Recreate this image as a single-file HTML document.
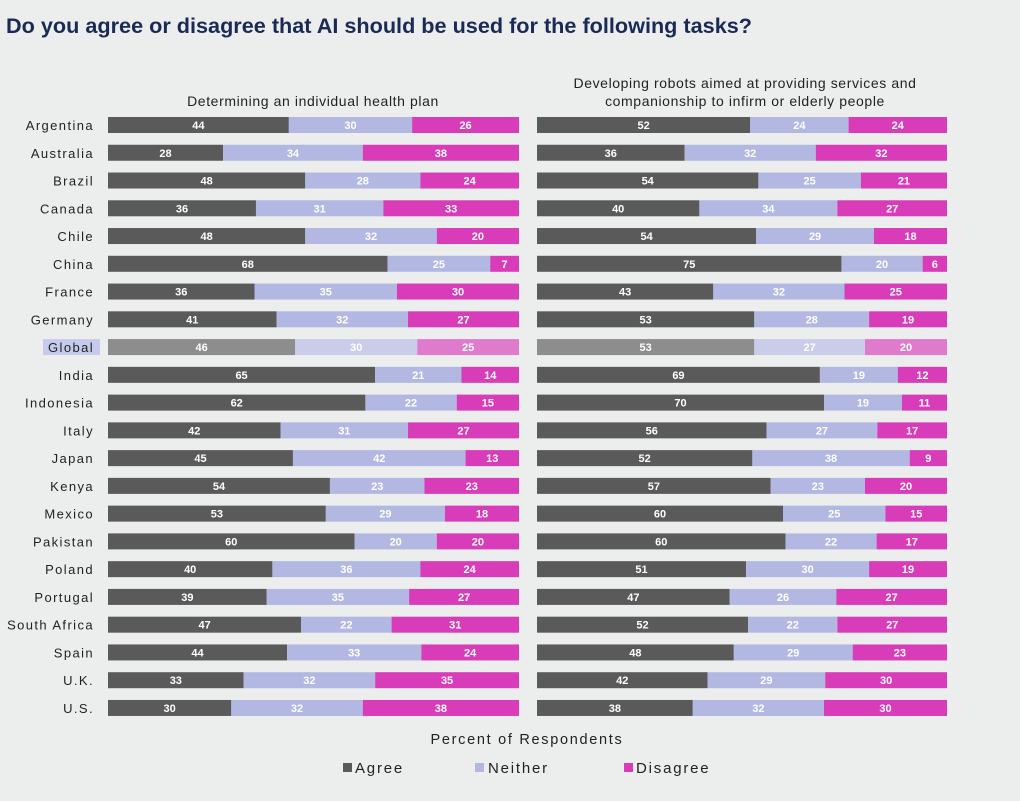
<!DOCTYPE html>
<html><head><meta charset="utf-8"><style>
body{margin:0;background:#eceeed;width:1020px;height:796px;overflow:hidden;font-family:"Liberation Sans",sans-serif}
</style></head><body>
<svg id="c" width="1020" height="796" xmlns="http://www.w3.org/2000/svg">
<rect width="1020" height="796" fill="#eceeed"/>
<text x="6" y="33" font-size="21" font-weight="bold" fill="#1b2a55" textLength="746" lengthAdjust="spacingAndGlyphs">Do you agree or disagree that AI should be used for the following tasks?</text>
<text x="313" y="106" font-size="14" text-anchor="middle" fill="#222" letter-spacing="0.6">Determining an individual health plan</text>
<text x="745" y="88" font-size="14" text-anchor="middle" fill="#222" letter-spacing="0.6">Developing robots aimed at providing services and</text>
<text x="745" y="106" font-size="14" text-anchor="middle" fill="#222" letter-spacing="0.6">companionship to infirm or elderly people</text>
<text x="527" y="744" font-size="14.5" text-anchor="middle" fill="#222" letter-spacing="1.7">Percent of Respondents</text>
<g>
<rect x="343" y="763" width="9" height="9" fill="#5a5a5a"/>
<text x="355" y="773" font-size="15" fill="#222" letter-spacing="1.8">Agree</text>
<rect x="475" y="763" width="9" height="9" fill="#b3b8e2"/>
<text x="488" y="773" font-size="15" fill="#222" letter-spacing="1.8">Neither</text>
<rect x="624" y="763" width="9" height="9" fill="#d83cb8"/>
<text x="636" y="773" font-size="15" fill="#222" letter-spacing="1.8">Disagree</text>
</g>
</svg>
<script>
const countries=["Argentina","Australia","Brazil","Canada","Chile","China","France","Germany","Global","India","Indonesia","Italy","Japan","Kenya","Mexico","Pakistan","Poland","Portugal","South Africa","Spain","U.K.","U.S."];
const healthAgree=[44,28,48,36,48,68,36,41,46,65,62,42,45,54,53,60,40,39,47,44,33,30];
const healthNeither=[30,34,28,31,32,25,35,32,30,21,22,31,42,23,29,20,36,35,22,33,32,32];
const healthDisagree=[26,38,24,33,20,7,30,27,25,14,15,27,13,23,18,20,24,27,31,24,35,38];
const robotAgree=[52,36,54,40,54,75,43,53,53,69,70,56,52,57,60,60,51,47,52,48,42,38];
const robotNeither=[24,32,25,34,29,20,32,28,27,19,19,27,38,23,25,22,30,26,22,29,29,32];
const robotDisagree=[24,32,21,27,18,6,25,19,20,12,11,17,9,20,15,17,19,27,27,23,30,30];
const svg=document.getElementById('c');const NS='http://www.w3.org/2000/svg';
const y0=125,step=27.76,bh=16;
function rowY(i){return y0+i*step;}
function mk(t,a){const e=document.createElementNS(NS,t);for(const k in a)e.setAttribute(k,a[k]);svg.appendChild(e);return e;}
countries.forEach((c,i)=>{
  if(c==="Global"){const r=mk('rect',{x:43,y:rowY(i)-8,width:57,height:16,fill:'#c5cbec'});
    
    }
  const t=mk('text',{x:94,y:rowY(i)+5,'font-size':13,'text-anchor':'end',fill:'#222','letter-spacing':'1.4'});
  t.textContent=c;
  
  
});
function panel(x0,w,A,N,D,name){
  countries.forEach((c,i)=>{
    const g=c==="Global";
    const vals=[A[i],N[i],D[i]];const tot=vals[0]+vals[1]+vals[2];
    const cols=g?['#8d8d8d','#c9cdea','#e07acd']:['#5a5a5a','#b3b8e2','#d83cb8'];
    const keys=['agree','neither','disagree'];
    let x=x0;
    vals.forEach((v,k)=>{
      const bw=v/tot*w;
      const r=mk('rect',{x:x,y:rowY(i)-bh/2,width:bw,height:bh,fill:cols[k]});
      
      
      const t=mk('text',{x:x+bw/2,y:rowY(i)+4,'font-size':11,'font-weight':'bold','text-anchor':'middle',fill:'#fff'});
      t.textContent=v;
      
      
      x+=bw;
    });
  });
}
panel(108,411,healthAgree,healthNeither,healthDisagree,'health');
panel(537,410,robotAgree,robotNeither,robotDisagree,'robots');
</script>
</body></html>
